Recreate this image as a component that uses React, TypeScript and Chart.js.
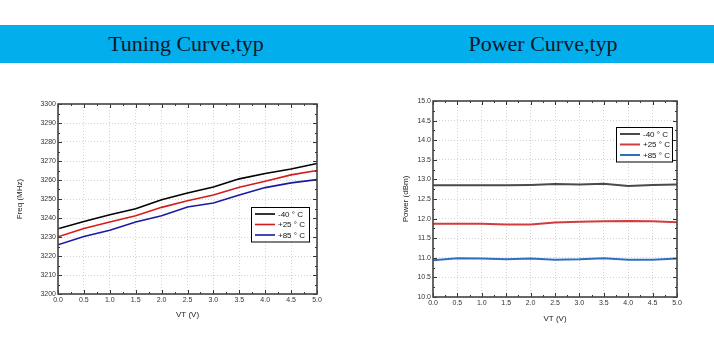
import React, { useEffect, useRef } from "react";
import { Chart, registerables } from "chart.js";

Chart.register(...registerables);

const vt = [0, 0.5, 1.0, 1.5, 2.0, 2.5, 3.0, 3.5, 4.0, 4.5, 5.0];
const legendLabels = ["-40 ° C", "+25 ° C", "+85 ° C"];

const tuneM40 = [3234.3, 3238.2, 3241.7, 3244.9, 3249.6, 3253.2, 3256.3, 3260.6, 3263.4, 3265.8, 3268.7];
const tuneP25 = [3230.1, 3234.5, 3237.9, 3241.2, 3245.6, 3249.1, 3252.1, 3256.2, 3259.3, 3262.7, 3265.0];
const tuneP85 = [3225.9, 3230.3, 3233.6, 3237.9, 3241.2, 3245.8, 3247.9, 3252.1, 3256.0, 3258.5, 3260.2];

const powM40 = [12.85, 12.85, 12.85, 12.85, 12.86, 12.88, 12.87, 12.89, 12.83, 12.86, 12.87];
const powP25 = [11.87, 11.87, 11.87, 11.85, 11.85, 11.9, 11.92, 11.93, 11.94, 11.93, 11.91];
const powP85 = [10.94, 10.99, 10.98, 10.96, 10.98, 10.95, 10.96, 10.99, 10.95, 10.95, 10.98];

const FONT = "'Liberation Sans', Arial, sans-serif";

const framePlugin = {
  id: "frame",
  afterDraw(chart: any, _a: any, opts: any) {
    const { ctx, chartArea: ca, scales } = chart;
    ctx.save();
    ctx.strokeStyle = "#333";
    ctx.lineWidth = 1;
    const xs = scales.x;
    const ys = scales.y;
    // minor + major ticks inward
    const drawTicksX = (step: number, len: number) => {
      for (let v = xs.min; v <= xs.max + 1e-9; v += step) {
        const px = Math.round(xs.getPixelForValue(v)) + 0.5;
        ctx.beginPath();
        ctx.moveTo(px, ca.bottom);
        ctx.lineTo(px, ca.bottom - len);
        ctx.moveTo(px, ca.top);
        ctx.lineTo(px, ca.top + len);
        ctx.stroke();
      }
    };
    const drawTicksY = (step: number, len: number) => {
      for (let v = ys.min; v <= ys.max + 1e-9; v += step) {
        const py = Math.round(ys.getPixelForValue(v)) + 0.5;
        ctx.beginPath();
        ctx.moveTo(ca.left, py);
        ctx.lineTo(ca.left + len, py);
        ctx.moveTo(ca.right, py);
        ctx.lineTo(ca.right - len, py);
        ctx.stroke();
      }
    };
    drawTicksX(opts.xStep, 4);
    drawTicksX(opts.xStep / 2, 2);
    drawTicksY(opts.yStep, 4);
    drawTicksY(opts.yStep / 2, 2);
    ctx.strokeStyle = "#444";
    ctx.lineWidth = 1.6;
    ctx.strokeRect(ca.left, ca.top, ca.right - ca.left, ca.bottom - ca.top);

    // legend box
    const ds = chart.data.datasets;
    const bw = opts.legendW;
    const rowH = 10.5;
    const bh = rowH * ds.length + 3;
    const bx = ca.right - opts.legendRight - bw;
    const by = ca.top + opts.legendTop;
    ctx.fillStyle = "#fff";
    ctx.fillRect(bx, by, bw, bh);
    ctx.strokeStyle = "#000";
    ctx.lineWidth = 1;
    ctx.strokeRect(Math.round(bx) + 0.5, Math.round(by) + 0.5, bw, bh);
    ctx.font = `8px ${FONT}`;
    ctx.textBaseline = "middle";
    ctx.textAlign = "left";
    ds.forEach((d: any, i: number) => {
      const cy = by + 7 + i * rowH;
      ctx.strokeStyle = d.borderColor;
      ctx.lineWidth = d.borderWidth;
      ctx.beginPath();
      ctx.moveTo(bx + 4, cy);
      ctx.lineTo(bx + 24, cy);
      ctx.stroke();
      ctx.fillStyle = "#111";
      ctx.fillText(d.label, bx + 27, cy + 0.5);
    });
    ctx.restore();
  },
};

type Cfg = {
  series: number[][];
  colors: string[];
  lineWidth: number;
  yMin: number;
  yMax: number;
  yStep: number;
  yTitle: string;
  yDecimals: number;
  yWidth: number;
  xHeight: number;
  padTop: number;
  padRight: number;
  xTitlePad: number;
  yTitlePad: number;
  legendW: number;
  legendRight: number;
  legendTop: number;
  width: number;
  height: number;
};

function LineChart({ cfg }: { cfg: Cfg }) {
  const ref = useRef<HTMLCanvasElement | null>(null);
  useEffect(() => {
    if (!ref.current) return;
    const chart = new Chart(ref.current, {
      type: "line",
      data: {
        datasets: cfg.series.map((s, i) => ({
          label: legendLabels[i],
          data: vt.map((x, j) => ({ x, y: s[j] })),
          borderColor: cfg.colors[i],
          backgroundColor: cfg.colors[i],
          borderWidth: cfg.lineWidth,
          pointRadius: 0,
          tension: 0,
          fill: false,
        })),
      },
      options: {
        animation: false,
        responsive: false,
        maintainAspectRatio: false,
        layout: { padding: { left: 0, top: cfg.padTop, right: cfg.padRight, bottom: 0 } },
        plugins: {
          legend: { display: false },
          tooltip: { enabled: false },
          frame: {
            xStep: 0.5,
            yStep: cfg.yStep,
            legendW: cfg.legendW,
            legendRight: cfg.legendRight,
            legendTop: cfg.legendTop,
          },
        } as any,
        scales: {
          x: {
            type: "linear",
            min: 0,
            max: 5,
            ticks: {
              stepSize: 0.5,
              font: { size: 7, family: FONT },
              color: "#333",
              padding: 2,
              maxRotation: 0,
              callback: (v: any) => Number(v).toFixed(1),
            },
            grid: { color: "#c8c8c8", lineWidth: 0.8, drawTicks: false },
            border: { display: false, dash: [1, 2] },
            title: {
              display: true,
              text: "VT (V)",
              font: { size: 8, family: FONT },
              color: "#222",
              padding: cfg.xTitlePad,
            },
            afterFit: (s: any) => {
              s.height = cfg.xHeight;
            },
          },
          y: {
            min: cfg.yMin,
            max: cfg.yMax,
            ticks: {
              stepSize: cfg.yStep,
              font: { size: 7, family: FONT },
              color: "#333",
              padding: 2,
              callback: (v: any) => Number(v).toFixed(cfg.yDecimals),
            },
            grid: { color: "#c8c8c8", lineWidth: 0.8, drawTicks: false },
            border: { display: false, dash: [1, 2] },
            title: {
              display: true,
              text: cfg.yTitle,
              font: { size: 8, family: FONT },
              color: "#222",
              padding: cfg.yTitlePad,
            },
            afterFit: (s: any) => {
              s.width = cfg.yWidth;
            },
          },
        },
      } as any,
      plugins: [framePlugin],
    });
    return () => chart.destroy();
  }, [cfg]);
  return <canvas ref={ref} width={cfg.width} height={cfg.height} style={{ width: cfg.width, height: cfg.height, display: "block" }} />;
}

const tuneCfg: Cfg = {
  series: [tuneM40, tuneP25, tuneP85],
  colors: ["#000000", "#d41c1c", "#1a1aa0"],
  lineWidth: 1.6,
  yMin: 3200,
  yMax: 3300,
  yStep: 10,
  yTitle: "Freq (MHz)",
  yDecimals: 0,
  yWidth: 58,
  xHeight: 36,
  padTop: 14,
  padRight: 23,
  xTitlePad: 10,
  yTitlePad: 15,
  legendW: 58,
  legendRight: 8,
  legendTop: 103,
  width: 340,
  height: 240,
};

const powCfg: Cfg = {
  series: [powM40, powP25, powP85],
  colors: ["#4a4a4a", "#d23c3c", "#2f6fc0"],
  lineWidth: 2,
  yMin: 10,
  yMax: 15,
  yStep: 0.5,
  yTitle: "Power (dBm)",
  yDecimals: 1,
  yWidth: 73,
  xHeight: 33,
  padTop: 11,
  padRight: 37,
  xTitlePad: 6,
  yTitlePad: 41,
  legendW: 56,
  legendRight: 5,
  legendTop: 26,
  width: 354,
  height: 240,
};

export default function App() {
  const titleStyle: React.CSSProperties = {
    position: "absolute",
    top: 0,
    height: 38,
    lineHeight: "38px",
    fontFamily: "'Liberation Serif', 'Times New Roman', serif",
    fontSize: 22,
    color: "#111827",
    whiteSpace: "nowrap",
    transform: "translateX(-50%)",
  };
  return (
    <div style={{ position: "absolute", left: 0, top: 0, width: 714, height: 341, background: "#fff", overflow: "hidden" }}>
      <div style={{ position: "absolute", left: 0, top: 25, width: 714, height: 38, background: "#03aeec" }}>
        <div style={{ ...titleStyle, left: 186 }}>Tuning Curve,typ</div>
        <div style={{ ...titleStyle, left: 543 }}>Power Curve,typ</div>
      </div>
      <div style={{ position: "absolute", left: 0, top: 90 }}>
        <LineChart cfg={tuneCfg} />
      </div>
      <div style={{ position: "absolute", left: 360, top: 90 }}>
        <LineChart cfg={powCfg} />
      </div>
    </div>
  );
}
